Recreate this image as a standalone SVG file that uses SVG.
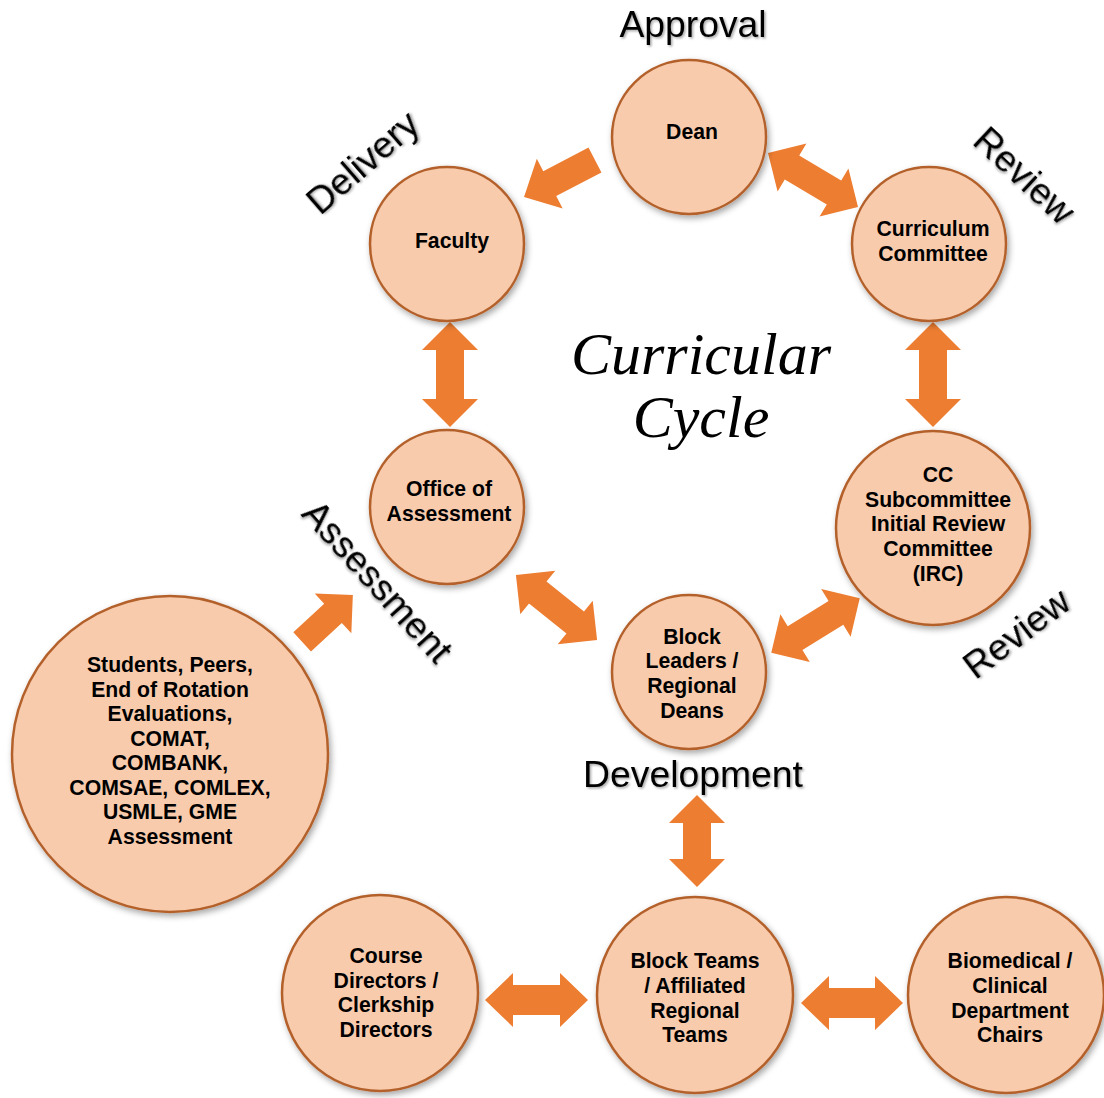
<svg xmlns="http://www.w3.org/2000/svg" width="1104" height="1098" viewBox="0 0 1104 1098">
<defs>
<filter id="sh" x="-20%" y="-20%" width="150%" height="150%">
<feDropShadow dx="2" dy="3" stdDeviation="3" flood-color="#000" flood-opacity="0.35"/>
</filter>
<filter id="tsh" x="-20%" y="-40%" width="140%" height="180%">
<feDropShadow dx="1.5" dy="1.5" stdDeviation="1.2" flood-color="#000" flood-opacity="0.35"/>
</filter>
</defs>
<style>
.n{fill:#F8CBAD;stroke:#B4612B;stroke-width:2.5;filter:url(#sh)}
.t{font-family:"Liberation Sans",Arial,sans-serif;font-weight:bold;font-size:21.2px;fill:#000;text-anchor:middle}
.lb{font-family:"Liberation Sans",Arial,sans-serif;font-size:37.3px;fill:#000;text-anchor:middle;filter:url(#tsh)}
.ar{fill:#ED7D31}
.cc{font-family:"Liberation Serif","Times New Roman",serif;font-style:italic;font-size:60px;fill:#000;text-anchor:middle}
</style>
<rect width="1104" height="1098" fill="#fff"/>

<g id="connectors">
<path class="ar" transform="translate(559.5,178.5) rotate(152.5)" d="M-40,-14 L11,-14 L11,-28 L40,0 L11,28 L11,14 L-40,14 Z"/>
<path class="ar" transform="translate(813,180) rotate(31)" d="M-52.5,0 L-24.5,-28 L-24.5,-14 L24.5,-14 L24.5,-28 L52.5,0 L24.5,28 L24.5,14 L-24.5,14 L-24.5,28 Z"/>
<path class="ar" transform="translate(450,374.5) rotate(90)" d="M-52.5,0 L-24.5,-28 L-24.5,-14 L24.5,-14 L24.5,-28 L52.5,0 L24.5,28 L24.5,14 L-24.5,14 L-24.5,28 Z"/>
<path class="ar" transform="translate(933,374.5) rotate(90)" d="M-52.5,0 L-24.5,-28 L-24.5,-14 L24.5,-14 L24.5,-28 L52.5,0 L24.5,28 L24.5,14 L-24.5,14 L-24.5,28 Z"/>
<path class="ar" transform="translate(556.5,607.5) rotate(38.7)" d="M-52,0 L-24,-28 L-24,-14 L24,-14 L24,-28 L52,0 L24,28 L24,14 L-24,14 L-24,28 Z"/>
<path class="ar" transform="translate(815.5,625.5) rotate(-31.7)" d="M-52,0 L-24,-28 L-24,-14 L24,-14 L24,-28 L52,0 L24,28 L24,14 L-24,14 L-24,28 Z"/>
<path class="ar" transform="translate(327.5,618.5) rotate(-42.7)" d="M-34.5,-13 L7.5,-13 L7.5,-27 L34.5,0 L7.5,27 L7.5,13 L-34.5,13 Z"/>
<path class="ar" transform="translate(697,841) rotate(90)" d="M-46,0 L-18,-28 L-18,-14 L18,-14 L18,-28 L46,0 L18,28 L18,14 L-18,14 L-18,28 Z"/>
<path class="ar" transform="translate(536.5,1000)" d="M-51.5,0 L-23.5,-27 L-23.5,-15 L23.5,-15 L23.5,-27 L51.5,0 L23.5,27 L23.5,15 L-23.5,15 L-23.5,27 Z"/>
<path class="ar" transform="translate(852,1003)" d="M-51,0 L-23,-27 L-23,-15 L23,-15 L23,-27 L51,0 L23,27 L23,15 L-23,15 L-23,27 Z"/>
</g>

<g id="dean"><circle class="n" cx="689" cy="137" r="77"/><text class="t" x="692" y="139">Dean</text></g>
<g id="faculty"><circle class="n" cx="447" cy="244" r="77"/><text class="t" x="452" y="248">Faculty</text></g>
<g id="curriculum"><circle class="n" cx="929" cy="244" r="77"/><text class="t" x="933" y="236">Curriculum</text><text class="t" x="933" y="261">Committee</text></g>
<g id="office"><circle class="n" cx="447" cy="507" r="77"/><text class="t" x="449" y="496">Office of</text><text class="t" x="449" y="521">Assessment</text></g>
<g id="cc"><circle class="n" cx="933" cy="528" r="97"/>
<text class="t" x="938" y="482">CC</text><text class="t" x="938" y="507">Subcommittee</text><text class="t" x="938" y="531">Initial Review</text><text class="t" x="938" y="556">Committee</text><text class="t" x="938" y="581">(IRC)</text></g>
<g id="block-leaders"><circle class="n" cx="689" cy="672" r="77"/>
<text class="t" x="692" y="644">Block</text><text class="t" x="692" y="668">Leaders /</text><text class="t" x="692" y="693">Regional</text><text class="t" x="692" y="718">Deans</text></g>
<g id="students"><circle class="n" cx="170" cy="754" r="158"/>
<text class="t" x="170" y="672">Students, Peers,</text><text class="t" x="170" y="697">End of Rotation</text><text class="t" x="170" y="721">Evaluations,</text><text class="t" x="170" y="746">COMAT,</text><text class="t" x="170" y="770">COMBANK,</text><text class="t" x="170" y="795">COMSAE, COMLEX,</text><text class="t" x="170" y="819">USMLE, GME</text><text class="t" x="170" y="844">Assessment</text></g>
<g id="course-directors"><circle class="n" cx="380" cy="993" r="98"/>
<text class="t" x="386" y="963">Course</text><text class="t" x="386" y="988">Directors /</text><text class="t" x="386" y="1012">Clerkship</text><text class="t" x="386" y="1037">Directors</text></g>
<g id="block-teams"><circle class="n" cx="695" cy="995" r="98"/>
<text class="t" x="695" y="968">Block Teams</text><text class="t" x="695" y="993">/ Affiliated</text><text class="t" x="695" y="1018">Regional</text><text class="t" x="695" y="1042">Teams</text></g>
<g id="biomedical"><circle class="n" cx="1006" cy="995" r="98"/>
<text class="t" x="1010" y="968">Biomedical /</text><text class="t" x="1010" y="993">Clinical</text><text class="t" x="1010" y="1018">Department</text><text class="t" x="1010" y="1042">Chairs</text></g>

<g id="labels">
<text class="lb" x="693" y="37">Approval</text>
<text class="lb" x="693" y="787">Development</text>
<text class="lb" transform="translate(363,163) rotate(-41)" x="0" y="12">Delivery</text>
<text class="lb" transform="translate(1024,176) rotate(43)" x="0" y="12">Review</text>
<text class="lb" transform="translate(1017,634) rotate(-37)" x="0" y="12">Review</text>
<text class="lb" transform="translate(377,582) rotate(48)" x="0" y="12">Assessment</text>
<text class="cc" x="701" y="374">Curricular</text>
<text class="cc" x="701" y="437">Cycle</text>
</g>
</svg>
